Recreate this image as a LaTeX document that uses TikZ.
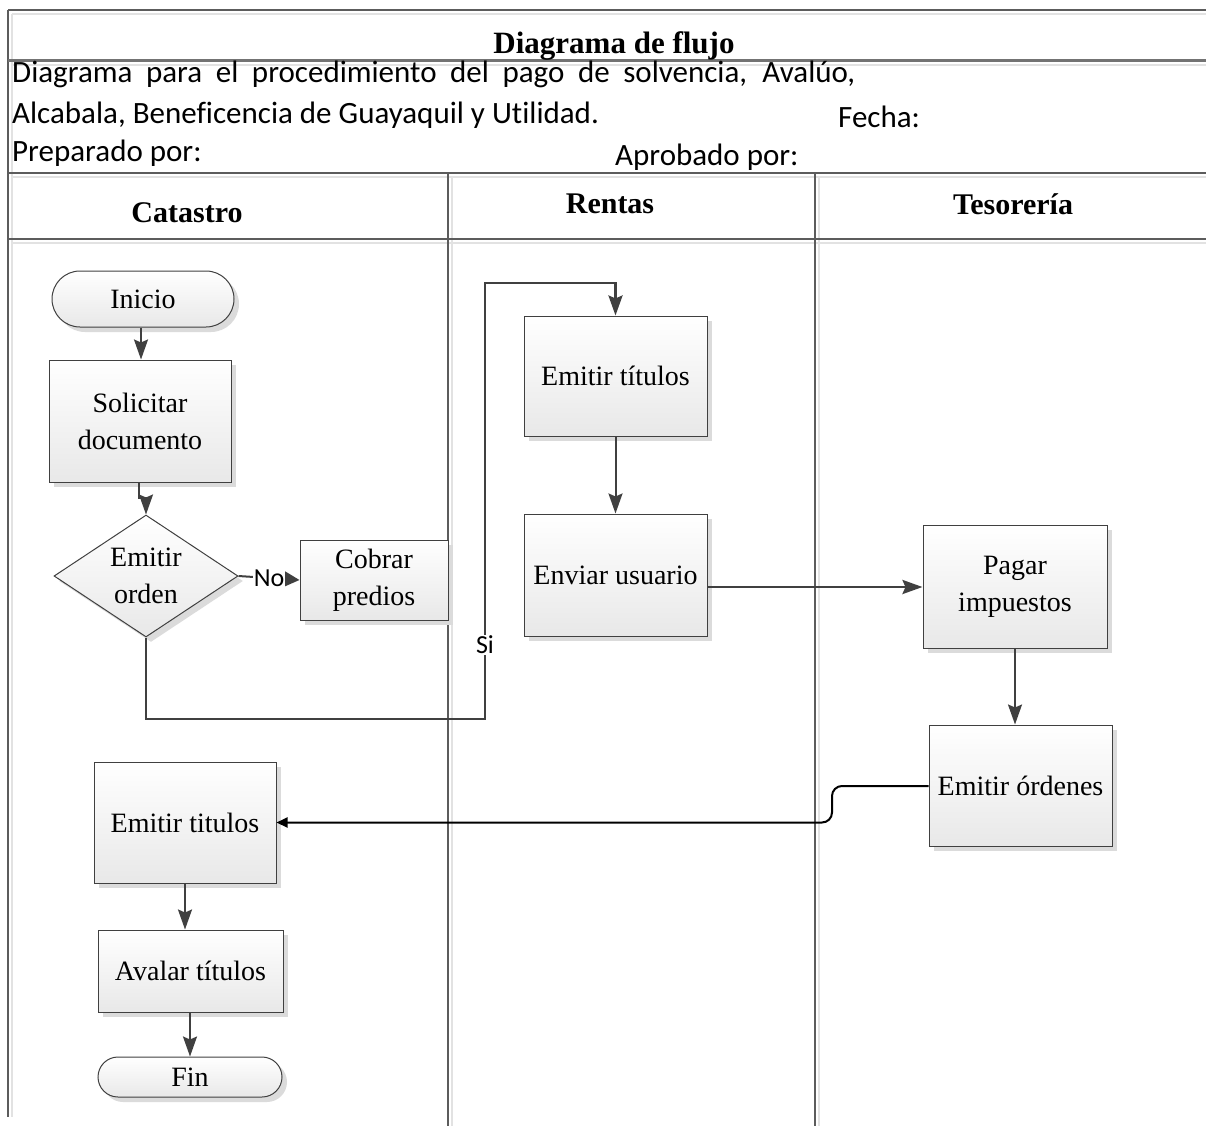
\documentclass[tikz,border=0pt]{standalone}
\usepackage{fontspec}
\setmainfont{Liberation Serif}
\newfontfamily\calib[Ligatures=NoCommon]{Carlito}
\usetikzlibrary{arrows.meta,shapes.geometric,shadows,calc}
\definecolor{ink}{HTML}{404040}
\definecolor{rulec}{HTML}{5C5C5C}
\definecolor{ghost}{HTML}{E2E2E2}

\begin{document}
\begin{tikzpicture}[x=1pt,y=-1pt,
  proc/.style={draw=ink, line width=1pt, top color=white, bottom color=black!9,
    drop shadow={shadow xshift=5pt, shadow yshift=-5pt, fill=black!14, opacity=1},
    font=\fontsize{28}{37}\selectfont, align=center, inner sep=0pt},
  term/.style={proc, rounded corners=#1},
  decision/.style={proc, diamond, aspect=1.5},
  flow/.style={draw=ink, line width=2pt, -{Stealth[length=20pt,width=14pt,inset=3pt]}},
  flowthick/.style={flow, line width=2.8pt},
  lbl/.style={font=\calib\fontsize{26}{30}\selectfont, fill=white, inner sep=1pt},
  hdr/.style={anchor=base west, inner sep=0pt, font=\calib\fontsize{31}{37}\selectfont},
  lane/.style={font=\bfseries\fontsize{30}{36}\selectfont, inner sep=0pt},
  frame/.style={draw=rulec, line width=2pt},
  frameshade/.style={draw=ghost, line width=2pt}
]
\useasboundingbox (0,0) rectangle (1206,1126);

% form frame: light inner lines first, dark rules on top
\draw[frameshade] (12,14) -- (1206,14);
\draw[frameshade] (12,14) -- (12,1117);
\draw[frameshade] (12,65) -- (1206,65);
\draw[frameshade] (12,177) -- (1206,177);
\draw[frameshade] (12,243) -- (1206,243);
\draw[frameshade] (452,177) -- (452,1126);
\draw[frameshade] (819,177) -- (819,1126);
\draw[frame] (8,10) -- (1206,10);
\draw[frame] (8,10) -- (8,1117);
\draw[frame, draw=black!55, line width=3pt] (8,61) -- (1206,61);
\draw[frame, line width=2.5pt] (8,173) -- (1206,173);
\draw[frame] (8,239) -- (1206,239);
\draw[frame] (448,173) -- (448,1126);
\draw[frame, line width=1.4pt] (815,173) -- (815,1126);

% title block
\node[font=\bfseries\fontsize{31}{37}\selectfont, anchor=base, inner sep=0pt] (title) at (614,54) {Diagrama de flujo};
\node[hdr] (desc1) at (12,83) {\hbox to 843pt{Diagrama para el procedimiento del pago de solvencia, Avalúo,}};
\node[hdr] (desc2) at (12,124) {Alcabala, Beneficencia de Guayaquil y Utilidad.};
\node[hdr] (fecha) at (838,128) {Fecha:};
\node[hdr] (prep) at (12,161) {Preparado por:};
\node[hdr] (aprob) at (615,166) {Aprobado por:};

% lane headings
\node[lane] (catastro) at (187,213) {Catastro};
\node[lane] (rentas) at (610,204) {Rentas};
\node[lane] (tesoreria) at (1013,204) {Tesorería};

% Catastro
\node[term=28pt, minimum width=182pt, minimum height=56pt] (ini) at (143,299) {Inicio};
\node[proc, minimum width=182pt, minimum height=122pt] (sol) at (140,421) {Solicitar\\documento};
\node[decision, minimum width=184pt, minimum height=122pt] (dia) at (146,576) {Emitir\\orden};
\node[proc, minimum width=148pt, minimum height=80pt] (cob) at (374,580) {Cobrar\\predios};
\node[proc, minimum width=182pt, minimum height=121pt] (etc) at (185,822.5) {Emitir titulos};
\node[proc, minimum width=185pt, minimum height=82pt] (ava) at (190.5,971) {Avalar títulos};
\node[term=20pt, minimum width=184pt, minimum height=40pt] (fin) at (190,1077) {Fin};

% Rentas
\node[proc, minimum width=183pt, minimum height=120pt] (etr) at (615.5,376) {Emitir títulos};
\node[proc, minimum width=183pt, minimum height=122pt] (env) at (615.5,575) {Enviar usuario};

% Tesorería
\node[proc, minimum width=184pt, minimum height=123pt] (pag) at (1015,586.5) {Pagar\\impuestos};
\node[proc, minimum width=183pt, minimum height=121pt] (eor) at (1020.5,785.5) {Emitir órdenes};

% connectors
\draw[flow] (ini.south -| 141,0) -- (sol.north -| 141,0);
\draw[flow] (sol.south -| 139,0) -- ++(0,15) -| (dia.north);
\draw[draw=ink, line width=2pt, -{Triangle[length=15pt,width=15pt]}] (dia.east) -- node[lbl] (no) {No} (cob.west);
\coordinate (sidown) at (146,719);
\coordinate (siup) at (485,283);
\draw[flowthick] (dia.south) -- (sidown) -| (siup) -| (etr.north);
\node[lbl] (si) at (485,645) {Si};
\draw[flow] (etr.south) -- (env.north);
\draw[flowthick] (env.east |- 0,587) -- (pag.west |- 0,587);
\draw[flow] (pag.south) -- (eor.north -| pag.south);
\coordinate (bend) at (832,786);
\draw[draw=black, line width=2pt, rounded corners=10pt, -{Triangle[length=11pt,width=10pt]}] (eor.west |- bend) -- (bend) |- (etc.east);
\draw[flow] (etc.south -| 185,0) -- (ava.north -| 185,0);
\draw[flow] (ava.south -| fin.north) -- (fin.north);
\end{tikzpicture}
\end{document}
